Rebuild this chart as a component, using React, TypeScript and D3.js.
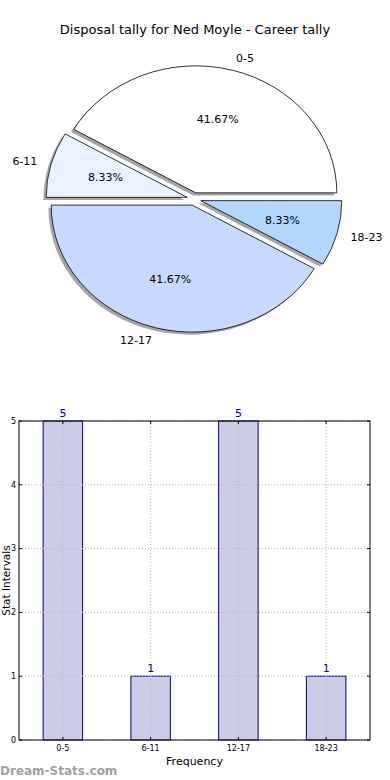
import * as d3 from "d3";
import React from "react";

// chart values
const categories = ["0-5", "6-11", "12-17", "18-23"];
const counts = [5, 1, 5, 1];
const pieColors = ["#ffffff", "#eaf1ff", "#c6d9ff", "#b3d6ff"];
const yTicks = [0, 1, 2, 3, 4, 5];

const title = "Disposal tally for Ned Moyle - Career tally";
const font = "DejaVu Sans, sans-serif";

const W = 390;
const H = 780;

const Pie = () => {
    const cx = 194, cy = 199, rx = 141, ry = 127;
    const explode = 0.05;

    // matplotlib style: start at 3 o'clock, go counter-clockwise
    const pie = d3.pie<number>().sort(null).startAngle(Math.PI / 2).endAngle(Math.PI / 2 - 2 * Math.PI);
    const arcs = pie(counts);
    const arc = d3.arc<d3.PieArcDatum<number>>().innerRadius(0).outerRadius(1);
    const total = d3.sum(counts);

    return (
        <g>
            {arcs.map((a, i) => {
                const mid = (a.startAngle + a.endAngle) / 2;
                const ux = Math.sin(mid), uy = -Math.cos(mid);
                const ox = cx + ux * explode * rx;
                const oy = cy + uy * explode * ry;
                return (
                    <g key={categories[i]}>
                        <path d={arc(a) || ""}
                              transform={`translate(${ox - 0.02 * rx},${oy + 0.02 * ry}) scale(${rx},${ry})`}
                              fill="#4d4d4d" fillOpacity={0.5} stroke="none"/>
                        <path d={arc(a) || ""}
                              transform={`translate(${ox},${oy}) scale(${rx},${ry})`}
                              fill={pieColors[i]} stroke="#000" strokeWidth={0.8}
                              vectorEffect="non-scaling-stroke"/>
                    </g>
                );
            })}
            {arcs.map((a, i) => {
                const mid = (a.startAngle + a.endAngle) / 2;
                const ux = Math.sin(mid), uy = -Math.cos(mid);
                const ox = cx + ux * explode * rx;
                const oy = cy + uy * explode * ry;
                const pct = (100 * counts[i] / total).toFixed(2) + "%";
                return (
                    <g key={"t" + categories[i]} fontFamily={font} fontSize={11}>
                        <text x={ox + ux * 1.1 * rx} y={oy + uy * 1.1 * ry} dy="0.35em"
                              textAnchor={ux > 0 ? "start" : "end"}>{categories[i]}</text>
                        <text x={ox + ux * 0.6 * rx} y={oy + uy * 0.6 * ry} dy="0.35em"
                              textAnchor="middle">{pct}</text>
                    </g>
                );
            })}
        </g>
    );
};

const Bars = () => {
    const left = 19, right = 370, top = 421, bottom = 740;
    const x = d3.scaleLinear().domain([-0.5, categories.length - 0.5]).range([left, right]);
    const y = d3.scaleLinear().domain([0, 5]).range([bottom, top]);
    const bw = (x(1) - x(0)) * 0.45;

    return (
        <g fontFamily={font}>
            {counts.map((v, i) => (
                <rect key={categories[i]} x={x(i) - bw / 2} y={y(v)} width={bw} height={y(0) - y(v)}
                      fill="#ccccE5" stroke="#00008b" strokeWidth={1}/>
            ))}
            {/* grid */}
            {yTicks.map(t => (
                <line key={"gy" + t} x1={left} x2={right} y1={y(t)} y2={y(t)}
                      stroke="#b5b5b5" strokeDasharray="1,2"/>
            ))}
            {categories.map((c, i) => (
                <line key={"gx" + c} x1={x(i)} x2={x(i)} y1={top} y2={bottom}
                      stroke="#b5b5b5" strokeDasharray="1,2"/>
            ))}
            <rect x={left} y={top} width={right - left} height={bottom - top} fill="none" stroke="#000" strokeWidth={1}/>
            {/* ticks */}
            {yTicks.map(t => (
                <g key={"ty" + t}>
                    <line x1={left} x2={left + 3} y1={y(t)} y2={y(t)} stroke="#000"/>
                    <line x1={right} x2={right - 3} y1={y(t)} y2={y(t)} stroke="#000"/>
                    <text x={left - 3} y={y(t)} dy="0.35em" textAnchor="end" fontSize={8}>{t}</text>
                </g>
            ))}
            {categories.map((c, i) => (
                <g key={"tx" + c}>
                    <line x1={x(i)} x2={x(i)} y1={bottom} y2={bottom - 3} stroke="#000"/>
                    <line x1={x(i)} x2={x(i)} y1={top} y2={top + 3} stroke="#000"/>
                    <text x={x(i)} y={bottom + 11} textAnchor="middle" fontSize={8}>{c}</text>
                </g>
            ))}
            {counts.map((v, i) => (
                <text key={"v" + i} x={x(i)} y={y(v) - 4} textAnchor="middle" fontSize={11} fill="#00008b">{v}</text>
            ))}
            <text x={(left + right) / 2} y={765} textAnchor="middle" fontSize={11}>Frequency</text>
            <text transform={`translate(10,${(top + bottom) / 2}) rotate(-90)`} textAnchor="middle" fontSize={10.5}>Stat Intervals</text>
        </g>
    );
};

export default function App() {
    return (
        <svg width={W} height={H} style={{position: "absolute", left: 0, top: 0, background: "#fff"}}>
            <text x={195} y={34} textAnchor="middle" fontFamily={font} fontSize={13}>{title}</text>
            <Pie/>
            <Bars/>
            <text x={0} y={775} fontFamily={font} fontSize={12} fontWeight={600} fill="#a0a0a0">Dream-Stats.com</text>
        </svg>
    );
}
